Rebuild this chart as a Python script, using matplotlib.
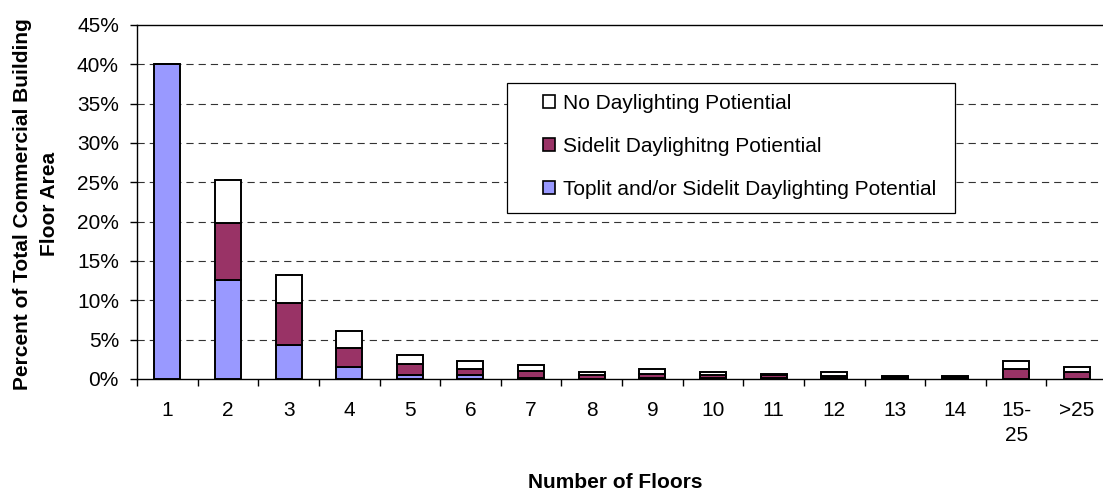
import matplotlib

matplotlib.use("Agg")

import matplotlib.pyplot as plt
import numpy as np
from matplotlib.patches import Patch, Rectangle
from matplotlib.ticker import PercentFormatter, FixedLocator

plt.rcParams["font.family"] = ["Liberation Sans", "DejaVu Sans"]

# Share of total commercial floor area (%) by building height
floors = ["1", "2", "3", "4", "5", "6", "7", "8", "9", "10", "11", "12",
          "13", "14", "15-\n25", ">25"]
toplit = [40.0, 12.6, 4.3, 1.5, 0.45, 0.45, 0.1, 0.05, 0.1, 0.1, 0.1, 0.1,
          0.1, 0.1, 0.05, 0.05]
sidelit = [0.0, 7.2, 5.35, 2.5, 1.5, 0.8, 0.88, 0.4, 0.5, 0.35, 0.35, 0.3,
           0.15, 0.15, 1.2, 0.85]
no_daylight = [0.0, 5.5, 3.55, 2.1, 1.1, 1.05, 0.85, 0.4, 0.7, 0.45, 0.15,
               0.5, 0.1, 0.1, 1.08, 0.64]

FS = 15
W, H = 1103, 495
fig = plt.figure(figsize=(W / 100, H / 100), dpi=100)
ax = fig.add_axes([137 / W, 1 - 379 / H, 970 / W, 354 / H])

x = np.arange(len(floors))
bar_kw = dict(width=0.43, edgecolor="black", linewidth=1.4, zorder=3)
ax.bar(x, toplit, color="#9999FF", **bar_kw)
ax.bar(x, sidelit, bottom=toplit, color="#993366", **bar_kw)
ax.bar(x, no_daylight, bottom=np.add(toplit, sidelit), color="white", **bar_kw)

ax.set_xlim(-0.5, len(floors) - 0.5)
ax.set_ylim(0, 45)
ax.set_yticks(np.arange(0, 46, 5))
ax.yaxis.set_major_formatter(PercentFormatter(decimals=0))
ax.set_xticks(x)
ax.set_xticklabels(floors, linespacing=1.4)
ax.xaxis.set_minor_locator(FixedLocator(np.arange(-0.5, len(floors), 1.0)))

ax.tick_params(axis="y", length=5, width=1, pad=8, labelsize=FS)
ax.tick_params(axis="x", which="major", length=0, pad=16, labelsize=FS)
ax.tick_params(axis="x", which="minor", length=5, width=1)

for y in range(5, 45, 5):
    ax.axhline(y, color="#333333", lw=0.8, ls=(0, (6.5, 4.5)), zorder=1)

ax.spines["right"].set_visible(False)
for side in ("left", "bottom", "top"):
    ax.spines[side].set_linewidth(1.0)

# legend box
ax.add_patch(Rectangle((507 / W, 1 - 213 / H), 448 / W, 130 / H,
                       transform=fig.transFigure, facecolor="white",
                       edgecolor="black", lw=0.9, zorder=5, clip_on=False))
handles = [
    Patch(facecolor="white", edgecolor="black", lw=1.2),
    Patch(facecolor="#993366", edgecolor="black", lw=1.2),
    Patch(facecolor="#9999FF", edgecolor="black", lw=1.2),
]
labels = ["No Daylighting Potiential", "Sidelit Daylighitng Potiential",
          "Toplit and/or Sidelit Daylighting Potential"]
leg = ax.legend(handles, labels, loc="upper left",
                bbox_to_anchor=(543 / W, 1 - 94 / H),
                bbox_transform=fig.transFigure, frameon=False, fontsize=FS,
                handlelength=0.57, handleheight=0.57, handletextpad=0.4,
                labelspacing=1.15, borderpad=0, borderaxespad=0)
leg.set_zorder(6)

fig.text(36 / W, 1 - 204 / H,
         "Percent of Total Commercial Building\nFloor Area",
         rotation=90, ha="center", va="center", fontsize=FS,
         fontweight="bold", linespacing=1.5, multialignment="center")
fig.text(615 / W, 1 - 482 / H, "Number of Floors", ha="center", va="center",
         fontsize=FS, fontweight="bold")

fig.savefig("out.png", dpi=100)
